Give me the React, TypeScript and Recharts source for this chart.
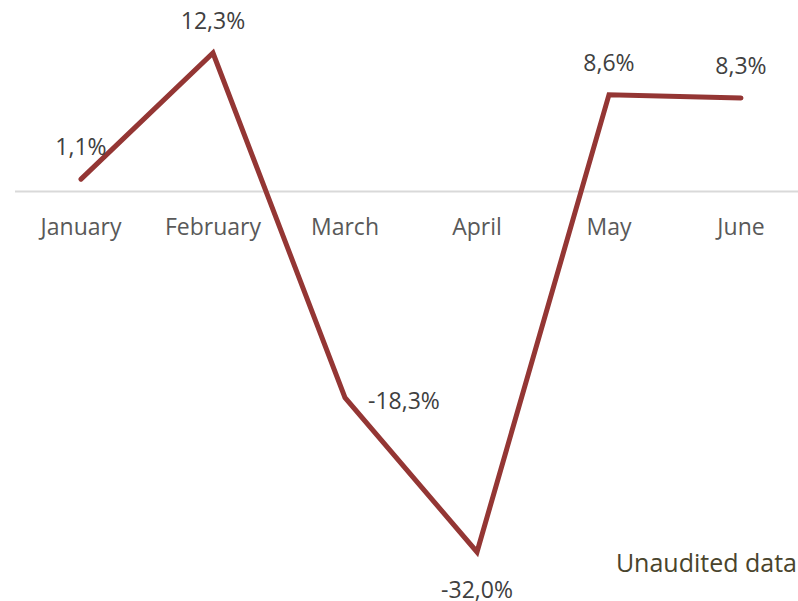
import { LineChart, Line, XAxis, YAxis, ReferenceLine, LabelList } from "recharts"

const months = ["January", "February", "March", "April", "May", "June"]
const growth = [1.1, 12.3, -18.3, -32.0, 8.6, 8.3]
const labelSide = ["top", "top", "right", "bottom", "top", "top"]

const data = months.map((month, i) => ({ month, growth: growth[i] }))

const FONT = "'Open Sans', sans-serif"

const fmt = (v: number) => `${v.toFixed(1).replace(".", ",")}%`

function PointLabel(props: any) {
    const { x, y, value, index } = props
    const side = labelSide[index]
    let tx = x
    let ty = y - 33
    let anchor: "middle" | "start" = "middle"
    if (side === "right") {
        tx = x + 23
        ty = y + 2
        anchor = "start"
    } else if (side === "bottom") {
        ty = y + 37
    }
    return (
        <text
            x={tx}
            y={ty}
            textAnchor={anchor}
            dominantBaseline="central"
            fill="#404040"
            fontSize={23}
            fontFamily={FONT}
        >
            {fmt(value)}
        </text>
    )
}

// ticks are drawn just under the zero line, not at the plot bottom
function MonthTick(props: any) {
    const { x, y, payload } = props
    return (
        <text x={x} y={y} dy={-325} textAnchor="middle" fill="#595959" fontSize={23} fontFamily={FONT}>
            {payload.value}
        </text>
    )
}

export default function App() {
    return (
        <div style={{ position: "relative", width: 798, height: 601 }}>
            <style>{`body{margin:0}`}</style>
            <LineChart width={798} height={601} data={data} margin={{ top: 53, right: 0, left: 15, bottom: 19 }}>
                <XAxis
                    dataKey="month"
                    height={30}
                    padding={{ left: 66, right: 57 }}
                    axisLine={false}
                    tickLine={false}
                    tick={<MonthTick />}
                    interval={0}
                />
                <YAxis hide domain={[-32, 12.3]} />
                <ReferenceLine y={0} stroke="#d9d9d9" strokeWidth={2} />
                <Line
                    dataKey="growth"
                    stroke="#943634"
                    strokeWidth={5}
                    dot={false}
                    strokeLinecap="round"
                    strokeLinejoin="miter"
                    isAnimationActive={false}
                >
                    <LabelList dataKey="growth" content={<PointLabel />} />
                </Line>
            </LineChart>
            <div
                style={{
                    position: "absolute",
                    right: 1,
                    top: 550,
                    fontFamily: FONT,
                    fontSize: 25,
                    lineHeight: "25px",
                    color: "#49442c",
                }}
            >
                Unaudited data
            </div>
        </div>
    )
}
